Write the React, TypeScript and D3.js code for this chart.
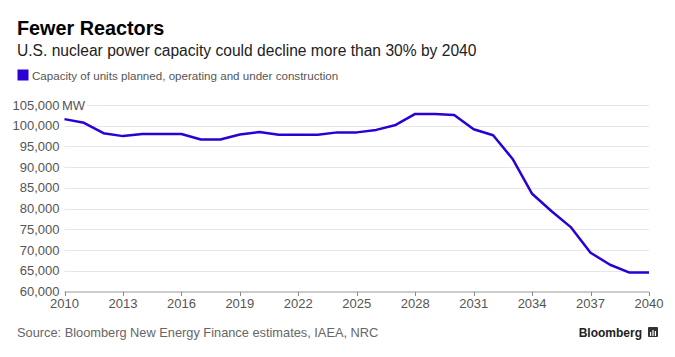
import React from "react";
import * as d3 from "d3";

const years: number[] = [2010, 2011, 2012, 2013, 2014, 2015, 2016, 2017, 2018, 2019, 2020, 2021, 2022, 2023, 2024, 2025, 2026, 2027, 2028, 2029, 2030, 2031, 2032, 2033, 2034, 2035, 2036, 2037, 2038, 2039, 2040];
const capacity: number[] = [101600, 100700, 98200, 97500, 98000, 98000, 98000, 96700, 96700, 97900, 98500, 97850, 97850, 97850, 98400, 98400, 99000, 100200, 102850, 102850, 102600, 99150, 97700, 92000, 83600, 79400, 75500, 69400, 66500, 64600, 64600];
const yTicks: number[] = [60000, 65000, 70000, 75000, 80000, 85000, 90000, 95000, 100000, 105000];
const xTicks: number[] = [2010, 2013, 2016, 2019, 2022, 2025, 2028, 2031, 2034, 2037, 2040];

const title = "Fewer Reactors";
const subtitle = "U.S. nuclear power capacity could decline more than 30% by 2040";
const legendLabel = "Capacity of units planned, operating and under construction";
const source = "Source: Bloomberg New Energy Finance estimates, IAEA, NRC";

const W = 675;
const H = 357;
const FONT = "'Liberation Sans', Arial, Helvetica, sans-serif";
const BLUE = "#2a00d6";

export default function App() {
  const x = d3.scaleLinear().domain([2010, 2040]).range([64.5, 649]);
  const y = d3.scaleLinear().domain([60000, 105000]).range([291.7, 105]);
  const fmt = d3.format(",");
  const line = d3
    .line<number>()
    .x((_, i) => x(years[i]))
    .y((d) => y(d));

  return (
    <svg
      width={W}
      height={H}
      style={{ position: "absolute", left: 0, top: 0, background: "#fff" }}
      fontFamily={FONT}
    >
      <rect width={W} height={H} fill="#fff" />
      <text x={17} y={35} fontSize={19.8} fontWeight="bold" fill="#000">
        {title}
      </text>
      <text x={17} y={56} fontSize={15.6} fill="#222">
        {subtitle}
      </text>
      <rect x={17.5} y={69.5} width={11} height={11} fill={BLUE} />
      <text x={32} y={79.5} fontSize={11.6} fill="#555">
        {legendLabel}
      </text>

      {yTicks.map((t) => (
        <g key={t}>
          {t > 60000 && (
            <line
              x1={t === 105000 ? 87 : 64.5}
              x2={649}
              y1={Math.round(y(t)) + 0.5}
              y2={Math.round(y(t)) + 0.5}
              stroke="#e6e6e6"
              strokeWidth={1}
            />
          )}
          <text
            x={59.5}
            y={y(t) + 4.5}
            fontSize={13}
            fill="#555"
            textAnchor="end"
          >
            {fmt(t)}
          </text>
          {t === 105000 && (
            <text x={62} y={y(t) + 4.5} fontSize={13} fill="#555">
              MW
            </text>
          )}
        </g>
      ))}

      <line x1={64.5} x2={649} y1={292} y2={292} stroke="#999" strokeWidth={1.2} />
      {xTicks.map((t) => (
        <g key={t}>
          <line
            x1={Math.round(x(t)) + 0.5}
            x2={Math.round(x(t)) + 0.5}
            y1={292}
            y2={296}
            stroke="#888"
            strokeWidth={1}
          />
          <text x={x(t)} y={308} fontSize={13} fill="#555" textAnchor="middle">
            {t}
          </text>
        </g>
      ))}

      <path
        d={line(capacity) || ""}
        fill="none"
        stroke={BLUE}
        strokeWidth={2.5}
        strokeLinejoin="round"
      />

      <text x={17} y={337} fontSize={12.8} fill="#666">
        {source}
      </text>
      <text x={642} y={337} fontSize={12} fontWeight="bold" fill="#222" textAnchor="end">
        Bloomberg
      </text>
      <g transform="translate(648,327)">
        <rect width={10} height={10} fill="#333" rx={1} />
        <rect x={2} y={5} width={1.2} height={4} fill="#fff" />
        <rect x={4.4} y={3} width={1.2} height={6} fill="#fff" />
        <rect x={6.8} y={4} width={1.2} height={5} fill="#fff" />
      </g>
    </svg>
  );
}
